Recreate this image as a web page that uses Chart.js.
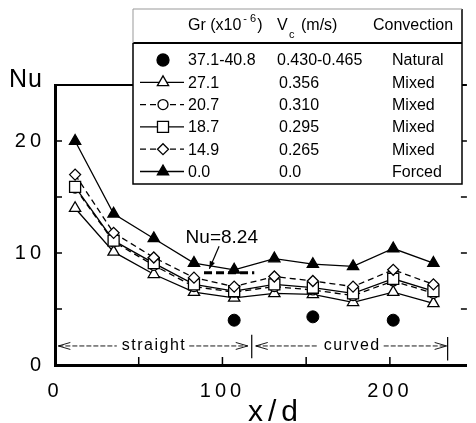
<!DOCTYPE html>
<html>
  <head>
    <title>Nu vs x/d</title>
    <script src="https://cdn.jsdelivr.net/npm/chart.js"></script>
    <style>
      body { margin: 0; background: #fff; }
    </style>
  </head>

  <body>
    <canvas id="myChart" width="476" height="423"></canvas>

    <script>
      // measuring stations (x/d)
      var xd = [12, 35, 59, 83, 107, 131, 154, 178, 202, 226];
      var xdNatural = [107, 154, 202];

      // Nu for each Grashof number
      var nuNatural = [4.0, 4.3, 4.0];
      var nuGr271 = [14.0, 10.1, 8.1, 6.5, 6.0, 6.4, 6.3, 5.6, 6.5, 5.5];
      var nuGr207 = [15.8, 11.0, 8.9, 7.0, 6.5, 7.0, 6.7, 6.2, 7.5, 6.4];
      var nuGr187 = [15.9, 11.1, 9.1, 7.2, 6.6, 7.2, 6.9, 6.4, 7.7, 6.6];
      var nuGr149 = [17.0, 11.8, 9.6, 7.8, 7.0, 7.9, 7.5, 7.0, 8.5, 7.2];
      var nuGr0 = [20.0, 13.5, 11.3, 9.1, 8.5, 9.5, 9.0, 8.8, 10.4, 9.1];

      // legend table
      var grLabels = ["37.1-40.8", "27.1", "20.7", "18.7", "14.9", "0.0"];
      var vcLabels = ["0.430-0.465", "0.356", "0.310", "0.295", "0.265", "0.0"];
      var convLabels = ["Natural", "Mixed", "Mixed", "Mixed", "Mixed", "Forced"];

      // axes
      var xTicks = [0, 50, 100, 150, 200];
      var xTickLabels = [0, 100, 200];
      var yTicks = [0, 5, 10, 15, 20];
      var yTickLabels = [0, 10, 20];
      var xMax = 246;
      var yMax = 25;

      // annotations
      var nuFully = 8.24;
      var nuFullyFrom = 89;
      var nuFullyTo = 119;
      var straightFrom = 2;
      var bendAt = 117.5;
      var curvedTo = 234.5;

      var FONT = '"Liberation Sans", Arial, Helvetica, sans-serif';

      function pts(xs, ys) {
        return xs.map(function (x, i) {
          return { x: x, y: ys[i] };
        });
      }

      function series(label, ys, style, radius, filled, dashed, order) {
        return {
          label: label,
          data: pts(xd, ys),
          order: order,
          showLine: true,
          borderColor: "#000",
          borderWidth: 1.3,
          borderDash: dashed ? [6, 4] : [],
          pointStyle: style,
          pointRadius: radius,
          pointBorderWidth: 1.3,
          pointBackgroundColor: filled ? "#000" : "#fff",
          pointBorderColor: "#000",
        };
      }

      var datasets = [
        {
          label: grLabels[0],
          data: pts(xdNatural, nuNatural),
          order: 0,
          showLine: false,
          pointStyle: "circle",
          pointRadius: 6,
          pointBackgroundColor: "#000",
          pointBorderColor: "#000",
        },
        series(grLabels[1], nuGr271, "triangle", 6.5, false, false, 3),
        series(grLabels[2], nuGr207, "circle", 5, false, true, 2),
        series(grLabels[3], nuGr187, "rect", 7.8, false, false, 1),
        series(grLabels[4], nuGr149, "rectRot", 5.5, false, true, 0),
        series(grLabels[5], nuGr0, "triangle", 6.5, true, false, 0),
      ];

      function marker(ctx, ds, x, y) {
        ctx.save();
        ctx.lineWidth = ds.pointBorderWidth || 1.3;
        ctx.strokeStyle = "#000";
        ctx.fillStyle = ds.pointBackgroundColor;
        Chart.helpers.drawPoint(ctx, { pointStyle: ds.pointStyle, radius: ds.pointRadius, borderWidth: ctx.lineWidth }, x, y);
        ctx.restore();
      }

      function openHead(ctx, x, y, dir) {
        ctx.beginPath();
        ctx.moveTo(x - dir * 12, y - 3.5);
        ctx.lineTo(x, y);
        ctx.lineTo(x - dir * 12, y + 3.5);
        ctx.stroke();
      }

      var figure = {
        id: "figure",
        beforeDraw: function (chart) {
          var ctx = chart.ctx;
          ctx.save();
          ctx.fillStyle = "#fff";
          ctx.fillRect(0, 0, chart.width, chart.height);
          ctx.restore();
          // the scanned figure has widely spaced tick digits
          ctx.letterSpacing = "4px";
        },
        beforeDatasetsDraw: function (chart) {
          var ctx = chart.ctx;
          var a = chart.chartArea;
          var xs = chart.scales.x;
          var ys = chart.scales.y;
          ctx.letterSpacing = "0px";
          ctx.save();
          ctx.strokeStyle = "#000";
          ctx.lineWidth = 2;
          ctx.beginPath();
          ctx.moveTo(a.left, a.top);
          ctx.lineTo(a.right, a.top);
          ctx.stroke();
          ctx.lineWidth = 1.5;
          ctx.beginPath();
          xTicks.forEach(function (v) {
            var px = xs.getPixelForValue(v);
            ctx.moveTo(px, a.bottom);
            ctx.lineTo(px, a.bottom - 8);
          });
          yTicks.forEach(function (v) {
            var py = ys.getPixelForValue(v);
            ctx.moveTo(a.left, py);
            ctx.lineTo(a.left + 7, py);
            ctx.moveTo(a.right, py);
            ctx.lineTo(a.right - 6, py);
          });
          ctx.stroke();
          ctx.restore();
        },
        afterDatasetsDraw: function (chart) {
          var ctx = chart.ctx;
          var xs = chart.scales.x;
          var ys = chart.scales.y;
          ctx.save();
          ctx.strokeStyle = "#000";
          ctx.fillStyle = "#000";

          // fully developed value
          var yN = ys.getPixelForValue(nuFully);
          ctx.lineWidth = 3;
          ctx.setLineDash([8, 4]);
          ctx.beginPath();
          ctx.moveTo(xs.getPixelForValue(nuFullyFrom), yN);
          ctx.lineTo(xs.getPixelForValue(nuFullyTo), yN);
          ctx.stroke();
          ctx.setLineDash([]);

          ctx.font = "19px " + FONT;
          ctx.textAlign = "left";
          ctx.textBaseline = "alphabetic";
          ctx.fillText("Nu=8.24", xs.getPixelForValue(78), ys.getPixelForValue(10.9));

          var ax0 = xs.getPixelForValue(98), ay0 = ys.getPixelForValue(10.6);
          var ax1 = xs.getPixelForValue(92.2), ay1 = ys.getPixelForValue(8.6);
          ctx.lineWidth = 1.2;
          ctx.beginPath();
          ctx.moveTo(ax0, ay0);
          ctx.lineTo(ax1, ay1);
          ctx.stroke();
          var ang = Math.atan2(ay1 - ay0, ax1 - ax0);
          ctx.beginPath();
          ctx.moveTo(ax1, ay1);
          ctx.lineTo(ax1 - 8 * Math.cos(ang - 0.35), ay1 - 8 * Math.sin(ang - 0.35));
          ctx.lineTo(ax1 - 8 * Math.cos(ang + 0.35), ay1 - 8 * Math.sin(ang + 0.35));
          ctx.closePath();
          ctx.fill();

          // straight / curved sections
          var yA = ys.getPixelForValue(1.7);
          var pS = xs.getPixelForValue(straightFrom);
          var pB = xs.getPixelForValue(bendAt);
          var pE = xs.getPixelForValue(curvedTo);
          ctx.lineWidth = 1.2;
          ctx.beginPath();
          ctx.moveTo(pB, ys.getPixelForValue(2.7));
          ctx.lineTo(pB, ys.getPixelForValue(0.6));
          ctx.moveTo(pE, ys.getPixelForValue(2.5));
          ctx.lineTo(pE, ys.getPixelForValue(0.4));
          ctx.stroke();

          ctx.font = "16px " + FONT;
          ctx.letterSpacing = "1.5px";
          ctx.textAlign = "center";
          ctx.textBaseline = "middle";
          var sections = [
            { text: "straight", from: pS, to: pB - 4 },
            { text: "curved", from: pB + 4, to: pE - 1 },
          ];
          sections.forEach(function (s) {
            var mid = (s.from + s.to) / 2;
            var w = ctx.measureText(s.text).width / 2 + 4;
            ctx.fillText(s.text, mid + 1, yA);
            ctx.lineWidth = 0.9;
            ctx.setLineDash([5, 2]);
            ctx.beginPath();
            ctx.moveTo(s.from, yA);
            ctx.lineTo(mid - w, yA);
            ctx.moveTo(mid + w, yA);
            ctx.lineTo(s.to, yA);
            ctx.stroke();
            ctx.setLineDash([]);
            openHead(ctx, s.from, yA, -1);
            openHead(ctx, s.to, yA, 1);
          });
          ctx.letterSpacing = "0px";
          ctx.restore();
        },
        afterDraw: function (chart) {
          var ctx = chart.ctx;
          ctx.save();
          ctx.fillStyle = "#000";
          ctx.strokeStyle = "#000";

          // axis titles
          ctx.textAlign = "left";
          ctx.textBaseline = "alphabetic";
          ctx.font = "25px " + FONT;
          ctx.letterSpacing = "1px";
          ctx.fillText("Nu", 9, 87);
          ctx.font = "30px " + FONT;
          ctx.letterSpacing = "5px";
          ctx.fillText("x/d", 248, 421);
          ctx.letterSpacing = "0px";

          // legend table
          var bx = 133, by = 9, bw = 329, bh = 175;
          ctx.fillStyle = "#fff";
          ctx.fillRect(bx, by, bw, bh);
          ctx.fillStyle = "#000";
          ctx.lineWidth = 1.5;
          ctx.beginPath();
          ctx.moveTo(bx, by + 34);
          ctx.lineTo(bx, by + bh);
          ctx.lineTo(bx + bw, by + bh);
          ctx.lineTo(bx + bw, by);
          ctx.stroke();
          ctx.lineWidth = 2;
          ctx.beginPath();
          ctx.moveTo(bx, by + 34);
          ctx.lineTo(bx + bw, by + 34);
          ctx.stroke();
          ctx.strokeStyle = "#999";
          ctx.lineWidth = 1;
          ctx.beginPath();
          ctx.moveTo(bx, by);
          ctx.lineTo(bx + bw, by);
          ctx.moveTo(bx, by);
          ctx.lineTo(bx, by + 34);
          ctx.stroke();
          ctx.strokeStyle = "#000";

          var colGr = 188, colVc = 279, colConv = 392;
          ctx.font = "16px " + FONT;
          ctx.fillText("Gr (x10", colGr, 30);
          var w1 = ctx.measureText("Gr (x10").width;
          ctx.font = "11px " + FONT;
          ctx.fillText("- 6", colGr + w1 + 2, 22);
          var w2 = ctx.measureText("- 6").width;
          ctx.font = "16px " + FONT;
          ctx.fillText(")", colGr + w1 + w2 + 3, 30);
          ctx.fillText("V", 277, 30);
          ctx.font = "11px " + FONT;
          ctx.fillText("c", 289, 38);
          ctx.font = "16px " + FONT;
          ctx.fillText("(m/s)", 301, 30);
          ctx.fillText("Convection", 373, 30);

          var mx = 163;
          datasets.forEach(function (ds, i) {
            var cy = 60 + i * 22.3;
            if (ds.showLine) {
              ctx.save();
              ctx.lineWidth = ds.borderWidth;
              ctx.setLineDash(ds.borderDash);
              ctx.beginPath();
              ctx.moveTo(140, cy);
              ctx.lineTo(184, cy);
              ctx.stroke();
              ctx.restore();
            }
            marker(ctx, ds, mx, cy);
            ctx.font = "16px " + FONT;
            ctx.textBaseline = "middle";
            ctx.fillText(grLabels[i], colGr, cy + 1);
            ctx.fillText(vcLabels[i], i === 0 ? 277 : colVc, cy + 1);
            ctx.fillText(convLabels[i], colConv, cy + 1);
            ctx.textBaseline = "alphabetic";
          });
          ctx.restore();
        },
      };

      var ctx = document.getElementById("myChart").getContext("2d");
      var chart = new Chart(ctx, {
        type: "scatter",
        data: { datasets: datasets },
        plugins: [figure],
        options: {
          responsive: false,
          animation: false,
          devicePixelRatio: 1,
          layout: { padding: { top: 85, right: 0, left: 0, bottom: 0 } },
          plugins: { legend: { display: false }, tooltip: { enabled: false } },
          scales: {
            x: {
              type: "linear",
              min: 0,
              max: xMax,
              afterFit: function (s) {
                s.height = 58;
              },
              afterBuildTicks: function (s) {
                s.ticks = xTicks.map(function (v) {
                  return { value: v };
                });
              },
              grid: { display: false, drawTicks: false },
              border: { display: true, color: "#000", width: 3 },
              ticks: {
                color: "#000",
                padding: 14,
                maxRotation: 0,
                autoSkip: false,
                font: { family: FONT, size: 20 },
                callback: function (v) {
                  return xTickLabels.indexOf(v) >= 0 ? String(v) : "";
                },
              },
            },
            y: {
              type: "linear",
              min: 0,
              max: yMax,
              afterFit: function (s) {
                s.width = 55;
              },
              afterBuildTicks: function (s) {
                s.ticks = yTicks.map(function (v) {
                  return { value: v };
                });
              },
              grid: { display: false, drawTicks: false },
              border: { display: true, color: "#000", width: 3 },
              ticks: {
                color: "#000",
                padding: 10,
                autoSkip: false,
                font: { family: FONT, size: 20 },
                callback: function (v) {
                  return yTickLabels.indexOf(v) >= 0 ? String(v) : "";
                },
              },
            },
          },
        },
      });
    </script>
  </body>
</html>
